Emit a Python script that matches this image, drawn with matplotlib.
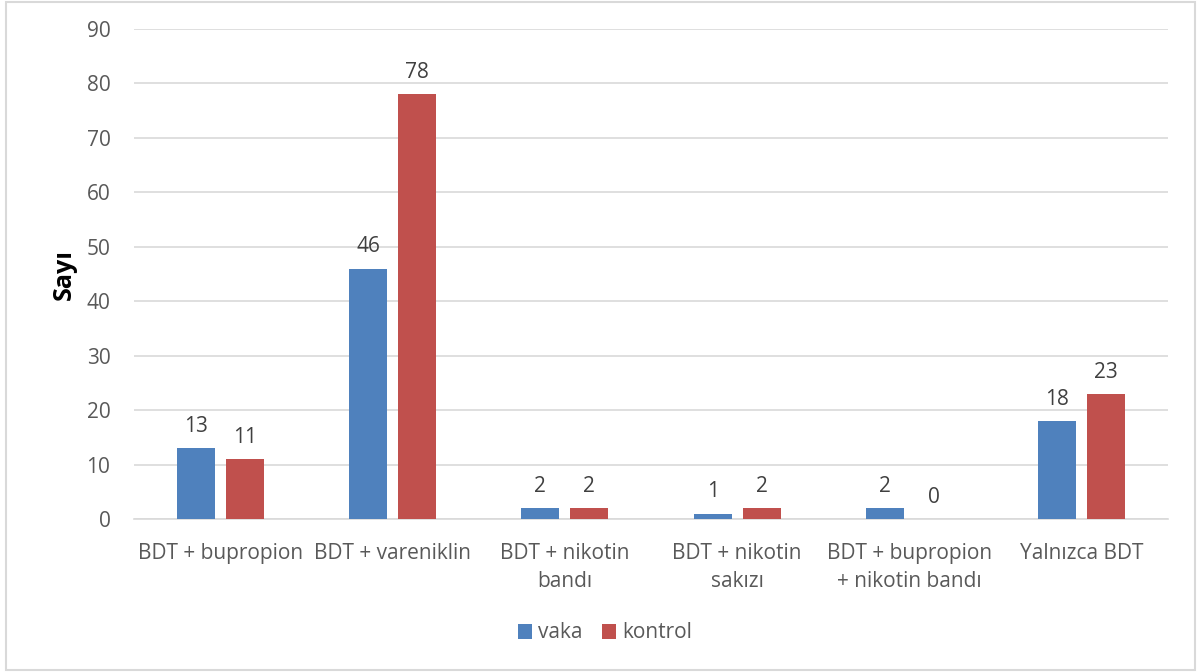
import matplotlib
matplotlib.use("Agg")
import matplotlib.pyplot as plt
import numpy as np
from matplotlib.patches import Rectangle

plt.rcParams['font.family'] = ['Open Sans', 'DejaVu Sans']

# treatment groups and counts per group
categories = ["BDT + bupropion", "BDT + vareniklin", "BDT + nikotin\nbandı",
              "BDT + nikotin\nsakızı", "BDT + bupropion\n+ nikotin bandı", "Yalnızca BDT"]
vaka = [13, 46, 2, 1, 2, 18]
kontrol = [11, 78, 2, 2, 0, 23]

blue = '#4F81BD'
red = '#C0504D'
text_col = '#595959'

fig = plt.figure(figsize=(12, 6.72), dpi=100)
ax = fig.add_axes([134/1200, 1 - 519/672, (1168-134)/1200, (519-29)/672])

x = np.arange(len(categories))
w = 0.22
gap = 0.064
b1 = ax.bar(x - (w + gap)/2, vaka, w, color=blue, label='vaka', zorder=3)
b2 = ax.bar(x + (w + gap)/2, kontrol, w, color=red, label='kontrol', zorder=3)

for bars in (b1, b2):
    ax.bar_label(bars, padding=8, fontsize=15, color='#404040')

ax.set_xlim(-0.5, len(categories) - 0.5)
ax.set_ylim(0, 90)
ax.set_yticks(range(0, 91, 10))
ax.yaxis.grid(True, color='#D9D9D9', linewidth=1.2, zorder=0)
ax.set_xticks(x)
ax.set_xticklabels(categories, fontsize=15, color=text_col, linespacing=1.45)
ax.tick_params(axis='y', labelsize=15, labelcolor=text_col, length=0, pad=17)
ax.tick_params(axis='x', length=0, pad=17)
for s in ['top', 'right', 'left']:
    ax.spines[s].set_visible(False)
ax.spines['bottom'].set_color('#D9D9D9')
ax.spines['bottom'].set_linewidth(1.2)

ax.set_ylabel('Sayı', fontsize=18, fontweight='bold', color='black', labelpad=7)

fig.legend(loc='center', bbox_to_anchor=(605/1200, 1 - 633/672), ncol=2, frameon=False,
           fontsize=15, handlelength=0.7, handleheight=0.7, handletextpad=0.3,
           columnspacing=0.9, labelcolor=text_col)

# light outer frame
fig.patches.append(Rectangle((6/1200, 2/672), 1189/1200, 668/672, transform=fig.transFigure,
                             fill=False, edgecolor='#D9D9D9', linewidth=1.5))

fig.savefig('out.png', dpi=100, facecolor='white')
